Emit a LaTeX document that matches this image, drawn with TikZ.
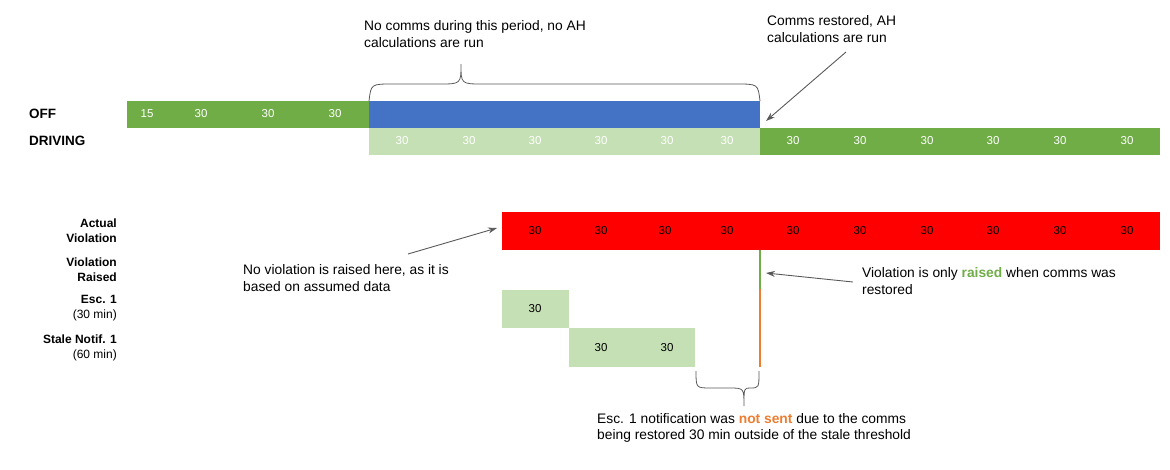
\documentclass[tikz,border=0pt]{standalone}
\usepackage{fontspec}
\setmainfont{Liberation Sans}
\usetikzlibrary{arrows.meta, calc}
\definecolor{tlGreen}{HTML}{70AD47}
\definecolor{tlLight}{HTML}{C5E0B4}
\definecolor{tlBlue}{HTML}{4472C4}
\definecolor{tlRed}{HTML}{FF0000}
\definecolor{tlOrange}{HTML}{ED7D31}
\definecolor{tlGray}{HTML}{595959}
\tikzset{
  >={Stealth[length=9pt, width=6pt]},
  bar/.style={anchor=north west, inner sep=0pt, outer sep=0pt, draw=none},
  num/.style={font=\fontsize{11.5}{13}\selectfont, text=white, inner sep=0pt},
  dnum/.style={num, text=black},
  rowlbl/.style={anchor=west, font=\fontsize{13.5}{15}\selectfont\bfseries, inner sep=0pt},
  sidelbl/.style={anchor=east, align=right, font=\fontsize{12}{15}\selectfont, inner sep=0pt},
  note/.style={anchor=west, align=left, font=\fontsize{13.8}{16.5}\selectfont, inner sep=0pt},
  callout/.style={->, line width=0.9pt, draw=tlGray},
  brace/.style={line width=0.8pt, draw=tlGray},
}

\begin{document}
\begin{tikzpicture}[x=1pt, y=-1pt]
  \useasboundingbox (0,0) rectangle (1170,469);

  % ---- Status rows -------------------------------------------------------
  \node[rowlbl] (offlbl) at (29,114) {OFF};
  \node[rowlbl] (drvlbl) at (29,141) {DRIVING};

  \node[bar, fill=tlGreen, minimum width=242pt, minimum height=27pt] (offbar) at (127,101) {};
  \node[bar, fill=tlBlue,  minimum width=391pt, minimum height=27pt] (gapbar) at (369,101) {};
  \node[bar, fill=tlLight, minimum width=391pt, minimum height=27pt] (assumed) at (369,128) {};
  \node[bar, fill=tlGreen, minimum width=400pt, minimum height=27pt] (drvbar) at (760,128) {};

  \node[num] (o1) at (147,114) {15};  \node[num] (o2) at (201,114) {30};
  \node[num] (o3) at (268,114) {30};  \node[num] (o4) at (335,114) {30};

  \node[num] (a1) at (402,141) {30};  \node[num] (a2) at (469,141) {30};
  \node[num] (a3) at (535,141) {30};  \node[num] (a4) at (601,141) {30};
  \node[num] (a5) at (667,141) {30};  \node[num] (a6) at (727,141) {30};

  \node[num] (d1) at (793,141) {30};  \node[num] (d2) at (860,141) {30};
  \node[num] (d3) at (927,141) {30};  \node[num] (d4) at (993,141) {30};
  \node[num] (d5) at (1060,141) {30}; \node[num] (d6) at (1127,141) {30};

  % ---- No comms brace and notes ------------------------------------------
  \node[note] (nocomms) at (364,34) {No comms during this period, no AH\\calculations are run};
  \node[note] (restored) at (767,29) {Comms restored, AH\\calculations are run};

  \draw[brace] (gapbar.north west) .. controls (371,84) .. (393,84) -- (439,84)
    .. controls (461,84) .. (461,64) .. controls (461,84) .. (483,84) -- (736,84)
    .. controls (758,84) .. (gapbar.north east);

  \coordinate (restoredtail) at (846,52);
  \coordinate (restoredtip) at (766,121);
  \draw[callout] (restoredtail) -- (restoredtip);

  % ---- Violation rows ----------------------------------------------------
  \node[sidelbl, font=\fontsize{12}{15}\selectfont\bfseries] (actlbl) at (117,231) {Actual\\Violation};
  \node[sidelbl, font=\fontsize{12}{15}\selectfont\bfseries] (raislbl) at (117,270) {Violation\\Raised};
  \node[sidelbl] (esclbl) at (117,308) {\textbf{Esc. 1}\\(30 min)};
  \node[sidelbl] (stalelbl) at (117,348) {\textbf{Stale Notif. 1}\\(60 min)};

  \node[bar, fill=tlRed, minimum width=658pt, minimum height=38pt] (actual) at (502,212) {};
  \node[dnum] (v1) at (535,231) {30};  \node[dnum] (v2) at (601,231) {30};
  \node[dnum] (v3) at (665,231) {30};  \node[dnum] (v4) at (727,231) {30};
  \node[dnum] (v5) at (793,231) {30};  \node[dnum] (v6) at (860,231) {30};
  \node[dnum] (v7) at (927,231) {30};  \node[dnum] (v8) at (993,231) {30};
  \node[dnum] (v9) at (1060,231) {30}; \node[dnum] (v10) at (1127,231) {30};

  \node[bar, fill=tlLight, minimum width=67pt, minimum height=38pt] (esc) at (502,290) {};
  \node[dnum] (e1) at (535,309) {30};
  \node[bar, fill=tlLight, minimum width=126pt, minimum height=39pt] (stale) at (569,328) {};
  \node[dnum] (s1) at (601,348) {30};  \node[dnum] (s2) at (667,348) {30};

  \coordinate (raisetop) at (760,250);
  \coordinate (raisemid) at (760,289);
  \coordinate (raisebot) at (760,367);
  \draw[tlGreen, line width=2pt] (raisetop) -- (raisemid);
  \draw[tlOrange, line width=2pt] (raisemid) -- (raisebot);

  % ---- Notes on the violation --------------------------------------------
  \node[note] (assumednote) at (243,278) {No violation is raised here, as it is\\based on assumed data};
  \coordinate (assumedtail) at (408,254);
  \coordinate (assumedtip) at (497,228);
  \draw[callout] (assumedtail) -- (assumedtip);

  \node[note] (raisednote) at (862,281) {Violation is only {\color{tlGreen}\bfseries raised} when comms was\\restored};
  \coordinate (raisedtail) at (853,282);
  \coordinate (raisedtip) at (766,273);
  \draw[callout] (raisedtail) -- (raisedtip);

  \draw[brace] (stale.south east) ++(1,4) .. controls (696,388) .. (711,388) -- (729,388)
    .. controls (744,388) .. (744,406) .. controls (744,388) .. (750,388)
    .. controls (759,388) .. (759,371);

  \node[note] (notsent) at (597,428) {Esc. 1 notification was {\color{tlOrange}\bfseries not sent} due to the comms\\being restored 30 min outside of the stale threshold};

\end{tikzpicture}
\end{document}
